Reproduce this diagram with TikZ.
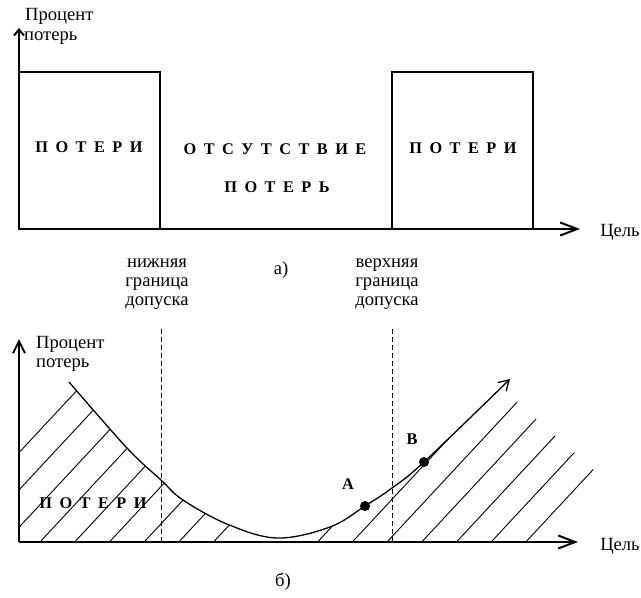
\documentclass[tikz,border=0pt]{standalone}
\usepackage{fontspec}
\setmainfont{Liberation Serif}
\usetikzlibrary{arrows.meta}
\newcommand{\lsp}{\hspace{7.5pt}}
\begin{document}
\begin{tikzpicture}[x=1pt,y=-1pt,
  txt/.style={font=\fontsize{18.6}{19}\selectfont, inner sep=0pt},
  btxt/.style={font=\fontsize{16.3}{18}\selectfont\bfseries, inner sep=0pt},
  axis/.style={line width=2pt},
  boxline/.style={line width=1.3pt},
  hatch/.style={line width=0.9pt},
  tol/.style={line width=1pt, dash pattern=on 5pt off 3pt},
  dot/.style={circle, fill=black, inner sep=0pt, minimum size=10pt},
  curve/.style={line width=1.3pt}]
\useasboundingbox (0,0) rectangle (641,598);

% ---------- a) ----------
\coordinate (o1) at (19,229);
\coordinate (ytop1) at (19,28);
\coordinate (xend1) at (580,229);
\draw[boxline] (19,72) rectangle (160,229);
\draw[boxline] (392,72) rectangle (533,229);
\draw[axis, -{Straight Barb[length=6pt,width=10pt]}] (o1) -- (ytop1);
\draw[axis, -{Straight Barb[length=17pt,width=13pt]}] (o1) -- (xend1);

\node[txt, anchor=base west] (ya1) at (25,20) {Процент};
\node[txt, anchor=base west] (ya2) at (24,40) {потерь};
\node[txt, anchor=base] (xa) at (620,236) {Цель};

\node[btxt, anchor=base] (lossL) at (89,152.5) {П\lsp О\lsp Т\lsp Е\lsp Р\lsp И};
\node[btxt, anchor=base] (lossR) at (463,153) {П\lsp О\lsp Т\lsp Е\lsp Р\lsp И};
\node[btxt, anchor=base] (none1) at (275,154.5) {О\lsp Т\lsp С\lsp У\lsp Т\lsp С\lsp Т\lsp В\lsp И\lsp Е};
\node[btxt, anchor=base] (none2) at (277,192.5) {П\lsp О\lsp Т\lsp Е\lsp Р\lsp Ь};

\node[txt, anchor=base] (lo1) at (157,267) {нижняя};
\node[txt, anchor=base] (lo2) at (157,286) {граница};
\node[txt, anchor=base] (lo3) at (157,305) {допуска};
\node[txt, anchor=base] (up1) at (387,267) {верхняя};
\node[txt, anchor=base] (up2) at (387,286) {граница};
\node[txt, anchor=base] (up3) at (387,305) {допуска};
\node[txt, anchor=base] (capa) at (281,274) {а)};

% ---------- b) ----------
\begin{scope}
\clip (19,542) -- (19,382) -- plot[smooth,tension=0.6] coordinates {(69,382) (127,448) (161,480) (183,500) (227,524) (277,538) (330,527) (365,506) (392,488) (424,462) (510,379)} -- (517,402) -- (670,537) -- (670,542) -- cycle;
\foreach \k in {-3,...,5,8,9,10,11,12,13,14}{
  \draw[hatch] ({40+34.7*\k},542) -- ({40+34.7*\k+250},{542-268.75});
}
\end{scope}

\draw[curve, -{Straight Barb[length=10pt,width=12pt]}] plot[smooth,tension=0.6] coordinates {(69,382) (127,448) (161,480) (183,500) (227,524) (277,538) (330,527) (365,506) (392,488) (424,462) (510,379)};

\coordinate (dl1) at (161,329);
\coordinate (dl2) at (161,542);
\coordinate (du1) at (392,329);
\coordinate (du2) at (392,542);
\draw[tol] (dl1) -- (dl2);
\draw[tol] (du1) -- (du2);

\coordinate (o2) at (19,542);
\coordinate (ytop2) at (19,339);
\coordinate (xend2) at (578,542);
\draw[axis, -{Straight Barb[length=12pt,width=12pt]}] (o2) -- (ytop2);
\draw[axis, -{Straight Barb[length=17pt,width=13pt]}] (o2) -- (xend2);

\node[dot] (A) at (365,506) {};
\node[dot] (B) at (424,462) {};
\node[btxt, anchor=base] (la) at (348,489) {А};
\node[btxt, anchor=base] (lb) at (412,444) {В};

\node[txt, anchor=base west] (yb1) at (36,348) {Процент};
\node[txt, anchor=base west] (yb2) at (36,367) {потерь};
\node[txt, anchor=base] (xb) at (620,550) {Цель};
\node[btxt, anchor=base] (lossB) at (93,508.5) {П\lsp О\lsp Т\lsp Е\lsp Р\lsp И};
\node[txt, anchor=base] (capb) at (283,586) {б)};
\end{tikzpicture}
\end{document}
